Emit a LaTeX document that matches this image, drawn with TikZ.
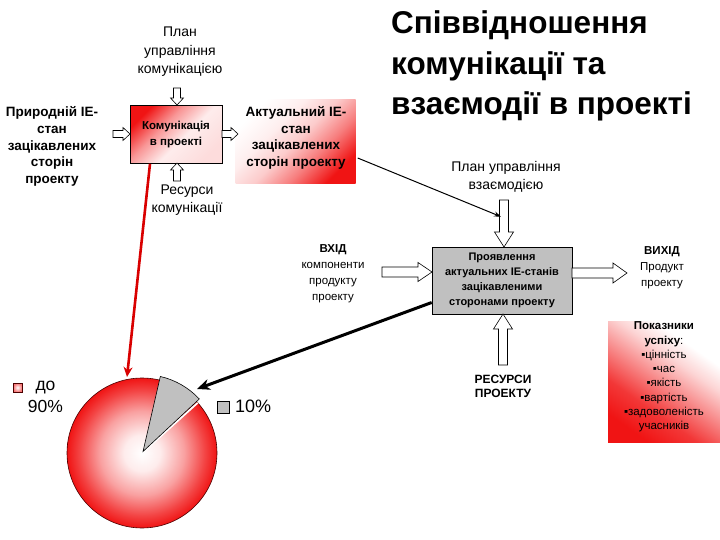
\documentclass[tikz,border=0pt]{standalone}
\usepackage{fontspec}
\setmainfont{Liberation Sans}
\usetikzlibrary{arrows.meta,calc}
\definecolor{pred}{RGB}{240,20,20}
\definecolor{pgray}{RGB}{192,192,192}
\pgfdeclareradialshading{pieshade}{\pgfpoint{0bp}{0bp}}{color(0bp)=(white); color(6bp)=(white!92!pred); color(14bp)=(pred!40); color(21bp)=(pred!80); color(25bp)=(pred); color(50bp)=(pred)}
\pgfdeclareverticalshading{actshade}{100bp}{color(0bp)=(pred); color(25bp)=(pred); color(38bp)=(pred!55); color(50bp)=(pred!22); color(62bp)=(pred!7); color(75bp)=(white); color(100bp)=(white)}
\pgfdeclareverticalshading{commshade}{100bp}{color(0bp)=(pred!15); color(25bp)=(pred!15); color(45bp)=(pred!8); color(60bp)=(pred!45); color(75bp)=(pred); color(100bp)=(pred)}
\pgfdeclareverticalshading{indshade}{100bp}{color(0bp)=(pred); color(25bp)=(pred); color(37bp)=(pred!85); color(49bp)=(pred!50); color(60bp)=(pred!18); color(69bp)=(white); color(100bp)=(white)}
\newcommand\harrow[7]{\draw[hollowarr, shift={(#1,#2)}, rotate=#3] (0,-#5)--(#4-#7,-#5)--(#4-#7,-#6)--(#4,0)--(#4-#7,#6)--(#4-#7,#5)--(0,#5)--cycle;}
\begin{document}
\begin{tikzpicture}[x=1pt,y=-1pt,
  every node/.style={inner sep=0pt, align=center},
  hollowarr/.style={draw=black, fill=white, line width=0.6pt},
  smalltxt/.style={font=\fontsize{14}{18.5}\selectfont},
  boldtxt/.style={font=\bfseries\fontsize{13.5}{16.7}\selectfont},
  boxtxt/.style={font=\bfseries\fontsize{11}{15}\selectfont},
  iotxt/.style={font=\fontsize{11.5}{16}\selectfont},
  commbox/.style={draw=black, line width=0.6pt, minimum width=92pt, minimum height=58pt,
     shading=commshade, shading angle=45},
  actbox/.style={minimum width=120pt, minimum height=84pt, shading=actshade, shading angle=45},
  indbox/.style={minimum width=112pt, minimum height=121pt, shading=indshade, shading angle=-35},
  procbox/.style={draw=black, line width=0.6pt, fill=pgray, minimum width=140pt, minimum height=67pt},
  redarr/.style={draw=red!85!black, line width=2.6pt, -{Stealth[length=10pt,width=9pt]}},
  blackarr/.style={draw=black, line width=3pt, -{Stealth[length=13pt,width=11pt]}},
  thinarr/.style={draw=black, line width=1pt, -{Stealth[length=7pt,width=5pt]}}
]
\useasboundingbox (0,0) rectangle (720,540);

% title
\node[anchor=north west, align=left, font=\bfseries\fontsize{31.5}{40.5}\selectfont] (title) at (391,10.5)
  {Співвідношення\\комунікації та\\взаємодії в проекті};

% communication part
\node[smalltxt] (plan1) at (180,52) {План\\управління\\комунікацією};
\node[commbox, shade, font=\bfseries\fontsize{11.5}{15.5}\selectfont] (comm) at (176,134.5) {Комунікація\\в проекті};
\node[boldtxt] (nat) at (52,146.5) {Природній IE-\\стан\\зацікавлених\\сторін\\проекту};
\node[actbox, shade] (act) at (295.5,142) {};
\node[boldtxt] (acttxt) at (296,138) {Актуальний IE-\\стан\\зацікавлених\\сторін проекту};
\node[smalltxt] (res1) at (187,200) {Ресурси\\комунікації};

\harrow{177}{88}{-90}{17}{3.5}{6.5}{7}
\harrow{113}{134}{0}{17}{3.5}{6.5}{7}
\harrow{222}{134}{0}{16}{3.5}{6.5}{7}
\harrow{177}{181}{90}{18}{3.5}{6.5}{7}

% interaction part
\node[smalltxt] (plan2) at (506,177) {План управління\\взаємодією};
\node[procbox, boxtxt] (proc) at (502,280.5) {Проявлення\\актуальних IE-станів\\зацікавленими\\сторонами проекту};
\node[iotxt] (intxt) at (333,273.5) {\textbf{ВХІД}\\компоненти\\продукту\\проекту};
\node[iotxt] (outtxt) at (662,268) {\textbf{ВИХІД}\\Продукт\\проекту};
\node[font=\bfseries\fontsize{12}{14.5}\selectfont] (res2) at (503,386.5) {РЕСУРСИ\\ПРОЕКТУ};

\harrow{504}{200}{-90}{47}{4.5}{9.5}{15}
\harrow{382}{272}{0}{50}{5}{9.5}{14}
\harrow{572}{273}{0}{55}{5}{10}{14}
\harrow{503}{365}{90}{51}{4.5}{9.5}{15}

% indicators
\node[indbox, shade] (ind) at (664,381.5) {};
\node[font=\fontsize{11.5}{14.3}\selectfont] (indtxt) at (664,377)
  {\textbf{Показники}\\\textbf{успіху}:\\▪цінність\\▪час\\▪якість\\▪вартість\\▪задоволеність\\учасників};

% pie
\coordinate (pc) at (142,453);
\shade[shading=pieshade] (pc) circle[radius=75];
\draw[black!70!red, line width=0.6pt] (pc) circle[radius=75];
\draw[white, line width=1.8pt] (pc) -- ++(-42:75);
\draw[fill=pgray, draw=black, line width=0.6pt] ($(pc)+(1,-1.5)$) -- ++(-43:77) arc[start angle=-43, end angle=-77, radius=77] -- cycle;
\coordinate (pietop) at (127,377);
\coordinate (pieright) at (197,389);

% legend
\node[draw=black!70!red, line width=0.6pt, minimum size=9pt, inner color=white, outer color=pred!60] (leg1) at (17.5,387.5) {};
\node[font=\fontsize{17.5}{22}\selectfont] (leg1t) at (45.5,397) {до\\90\%};
\node[draw=black, line width=0.6pt, fill=pgray, minimum size=12pt] (leg2) at (223,407) {};
\node[font=\fontsize{18}{22}\selectfont, anchor=west] (leg2t) at (235,406) {10\%};

% connectors
\draw[redarr] ($(comm.south)+(-26,0)$) -- (pietop);
\draw[thinarr] ($(act.east)+(2,16)$) -- ($(proc.north)+(-1,-30)$);
\draw[blackarr] ($(proc.west)+(0,22)$) -- (pieright);
\end{tikzpicture}
\end{document}
